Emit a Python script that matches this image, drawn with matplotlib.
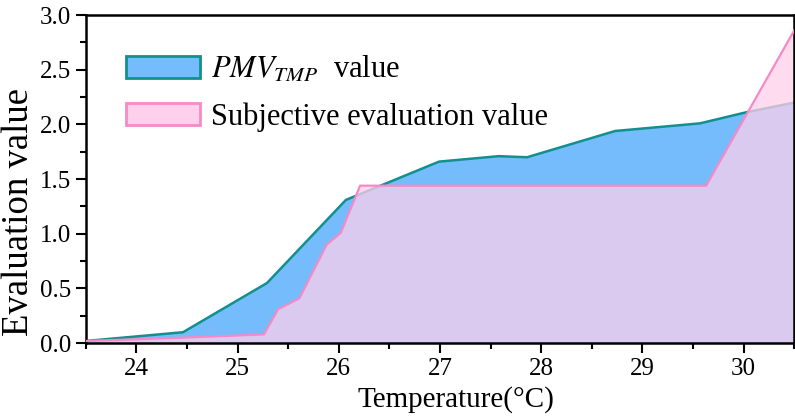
import matplotlib
matplotlib.use("Agg")
import matplotlib.pyplot as plt
from matplotlib.ticker import MultipleLocator, FormatStrFormatter
from matplotlib.patches import Patch

plt.rcParams['font.family'] = ['Liberation Serif', 'DejaVu Serif']
plt.rcParams['mathtext.fontset'] = 'stix'

# PMV_TMP curve
pmv_t = [23.5, 24.46, 25.29, 26.07, 26.99, 27.58, 27.86, 28.73, 29.57, 30.02, 30.5]
pmv_v = [0.02, 0.10, 0.55, 1.31, 1.66, 1.71, 1.70, 1.94, 2.01, 2.11, 2.20]

# subjective evaluation curve
subj_t = [23.5, 24.46, 25.26, 25.40, 25.61, 25.88, 26.02, 26.21, 29.63, 30.5]
subj_v = [0.02, 0.05, 0.08, 0.31, 0.41, 0.90, 1.01, 1.44, 1.44, 2.86]

fig = plt.figure(figsize=(7.95, 4.19), dpi=100)
ax = fig.add_axes([0.108, 0.181, 0.891, 0.783])

# blue area first, pink translucent area on top of it
ax.fill_between(pmv_t, pmv_v, 0, facecolor='#74BCFC', edgecolor='none', zorder=1)
ax.plot(pmv_t, pmv_v, color='#13908E', lw=1.8, zorder=1.5)
ax.fill_between(subj_t, subj_v, 0, facecolor='#FFD0EB', alpha=0.75,
                edgecolor='none', zorder=2)
ax.plot(subj_t, subj_v, color='#F58AC6', lw=1.6, zorder=3)

handles = [Patch(facecolor='#74BCFC', edgecolor='#13908E', lw=2),
           Patch(facecolor='#FFD0EB', edgecolor='#F58AC6', lw=2)]
labels = [r'$PMV_{TMP}$  value', 'Subjective evaluation value']
ax.legend(handles, labels, loc='upper left', bbox_to_anchor=(0.056, 0.88),
          frameon=False, fontsize=22, handlelength=2.45, handleheight=0.72,
          handletextpad=0.35, labelspacing=0.58, borderaxespad=0, borderpad=0)

ax.set_xlim(23.5, 30.5)
ax.set_ylim(0, 3.0)
ax.xaxis.set_major_locator(MultipleLocator(1))
ax.xaxis.set_minor_locator(MultipleLocator(0.5))
ax.yaxis.set_major_locator(MultipleLocator(0.5))
ax.yaxis.set_minor_locator(MultipleLocator(0.25))
ax.yaxis.set_major_formatter(FormatStrFormatter('%.1f'))
ax.tick_params(which='major', direction='out', length=7, width=1.5, labelsize=18)
ax.tick_params(which='minor', direction='out', length=4, width=1.5)
for s in ax.spines.values():
    s.set_linewidth(1.8)

ax.set_xlabel('Temperature(°C)', fontsize=21)
ax.set_ylabel('Evaluation value', fontsize=26.5)
ax.xaxis.set_label_coords(0.522, -0.13)
ax.yaxis.set_label_coords(-0.07, 0.40)

fig.savefig('out.png', dpi=100)
